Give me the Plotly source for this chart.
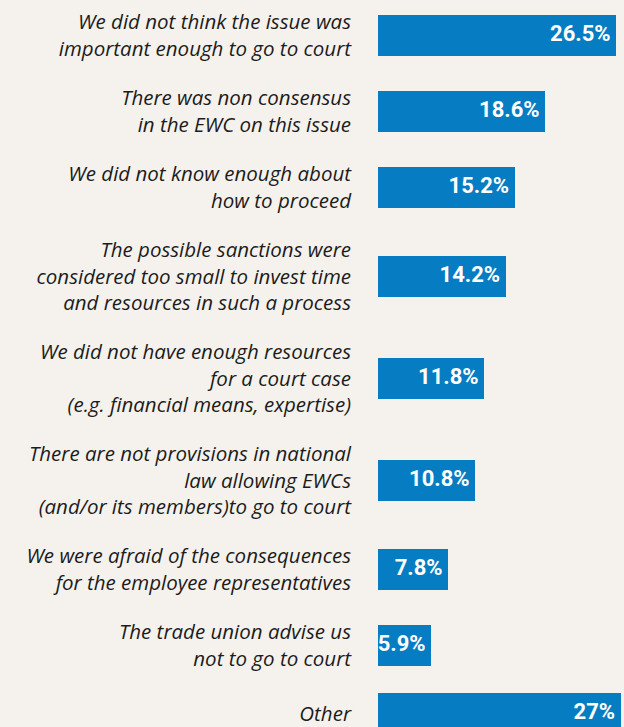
import plotly.graph_objects as go

categories = [
    "We did not think the issue was<br>important enough to go to court",
    "There was non consensus<br>in the EWC on this issue",
    "We did not know enough about<br>how to proceed",
    "The possible sanctions were<br>considered too small to invest time<br>and resources in such a process",
    "We did not have enough resources<br>for a court case<br>(e.g. financial means, expertise)",
    "There are not provisions in national<br>law allowing EWCs<br>(and/or its members)to go to court",
    "We were afraid of the consequences<br>for the employee representatives",
    "The trade union advise us<br>not to go to court",
    "Other",
]
values = [26.5, 18.6, 15.2, 14.2, 11.8, 10.8, 7.8, 5.9, 27]
value_labels = [f"{v:g}%" for v in values]

W, H = 624, 727
BG = "#f5f2ed"
BAR = "#067cc2"

# row heights depend on the number of label lines (layout only)
row_h = {1: 60, 2: 76, 3: 102}
lines = [c.count("<br>") + 1 for c in categories]
pos = []
y = 35.5
for i, n in enumerate(lines):
    if i > 0:
        y += (row_h[lines[i - 1]] + row_h[n]) / 2
    pos.append(y)

fig = go.Figure()
fig.add_trace(go.Bar(
    x=values, y=pos, orientation="h", width=40.7,
    marker=dict(color=BAR, line=dict(width=0)),
    hoverinfo="skip",
))
fig.add_trace(go.Scatter(
    x=values, y=pos, mode="text",
    text=[t + "\u00a0" for t in value_labels],
    textposition="middle left",
    textfont=dict(family="Roboto", size=22, color="white", weight="bold"),
    hoverinfo="skip",
))

fig.update_layout(
    width=W, height=H,
    margin=dict(l=378, r=3, t=0, b=0),
    paper_bgcolor=BG, plot_bgcolor=BG,
    showlegend=False,
    bargap=0,
)
fig.update_xaxes(range=[0, 27.05], visible=False, fixedrange=True)
fig.update_yaxes(
    range=[H, 0], tickvals=pos, ticktext=categories,
    showgrid=False, zeroline=False, showline=False, ticks="",
    ticklabelstandoff=26, fixedrange=True,
    tickfont=dict(family="Open Sans", size=20.5, color="#1c1c1c", style="italic"),
)

fig.write_html(
    "out.html",
    config={"displayModeBar": False},
    post_script="document.body.style.margin='0';document.body.style.background='%s';" % BG,
)
